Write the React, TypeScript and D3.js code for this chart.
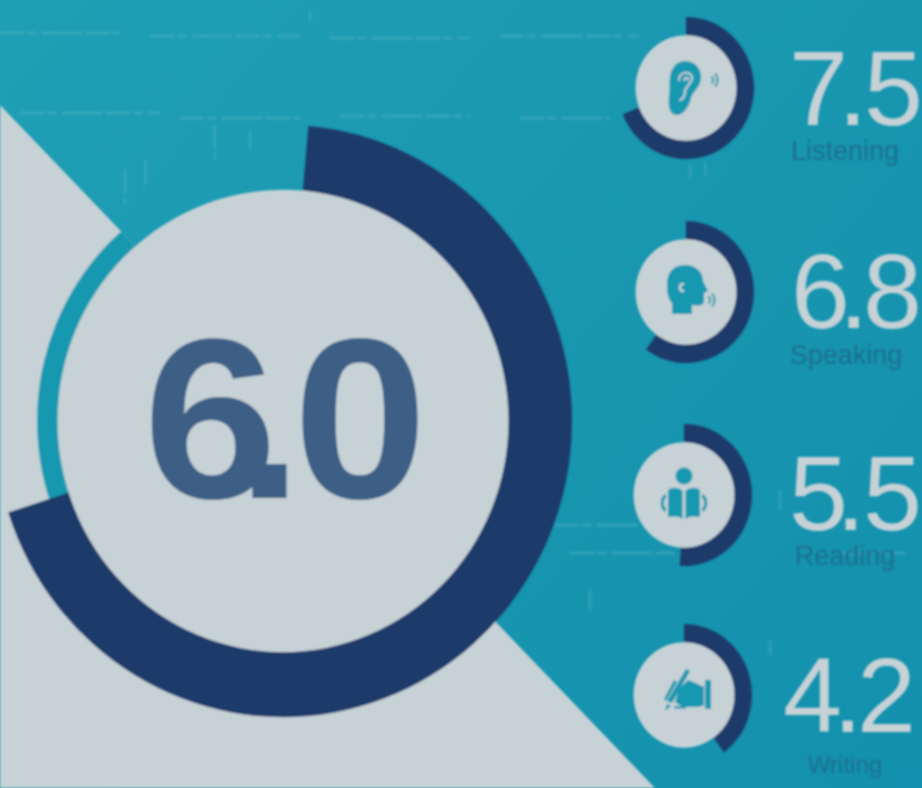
import React from "react";
import * as d3 from "d3";

const skills = ["Listening", "Speaking", "Reading", "Writing"];
const scores = ["7.5", "6.8", "5.5", "4.2"];
// share of the ring filled
const skillFill = [0.69, 0.6, 0.51, 0.4];
const overallScore = "6.0";
const overallStart = 0.014;
const overallEnd = 0.7;

const TEAL = "#1798b1";
const LIGHT = "#c6d2d6";
const NAVY = "#1f3b6a";
const DIAGONAL = "M0 105L655 788H0Z";

const ringAngle = d3.scaleLinear().domain([0, 1]).range([0, 2 * Math.PI]);

const rowCx = [686, 686, 684, 684];
const rowCy = [88, 292, 495, 695];
// glyph by glyph, the picture has uneven kerning
const scoreX = ["789 838 864", "791 839 863", "789 836 863", "783 833 857"];
const scoreY = [125, 328, 530, 732];
const labelX = [845, 846, 845, 845];
const labelY = [160, 364, 565, 773];

// photo scratches in the teal area
const streaks = [
  "M0 33H120M150 36H300M330 38H470M500 36H640",
  "M20 113H160M180 118H300M340 116H470M520 118H610",
  "M125 170V205M145 160V190M215 125V160M250 130V150",
  "M690 165V178M705 162V176M310 10V22M780 490V510",
  "M555 525H640M570 553H675M840 553H905M770 640V655",
  "M400 150V175M440 410V430M590 590V610",
];

const arcPath = d3.arc<{ a0: number; a1: number; r0: number; r1: number }>()
  .innerRadius((d) => d.r0)
  .outerRadius((d) => d.r1)
  .startAngle((d) => d.a0)
  .endAngle((d) => d.a1);

const Waves = ({ x, y }: { x: number; y: number }) => (
  <g fill="none" stroke={TEAL} strokeWidth={2} strokeLinecap="round">
    <path d={`M${x} ${y - 3}Q${x + 2.5} ${y} ${x} ${y + 3}`} />
    <path d={`M${x + 3.5} ${y - 6}Q${x + 7.5} ${y} ${x + 3.5} ${y + 6}`} />
  </g>
);

const Ear = () => (
  <g>
    <path
      d="M-1 -27C10 -27 16 -18 15 -9C14 0 7 3 5 10C3 19 -3 28 -10 27C-17 26 -18 17 -17 8C-16 2 -17 -6 -16 -12C-14 -22 -8 -27 -1 -27Z"
      fill={TEAL}
    />
    <path
      d="M-7 -8C-7 -16 4 -18 6 -11C7 -5 0 -3 -1 3C-1 8 -3 11 -6 12M-2 -8C-1 -11 2 -11 2 -8"
      fill="none"
      stroke={LIGHT}
      strokeWidth={2}
      strokeLinecap="round"
    />
    <Waves x={26} y={-8} />
  </g>
);

const Head = () => (
  <g>
    <path
      d="M-1 -27C10 -27 17 -20 17 -11L22 -1L18 1V9C18 14 12 14 6 13V22H-14V11C-19 6 -19 -2 -19 -8C-19 -20 -12 -27 -1 -27Z"
      fill={TEAL}
    />
    <path
      d="M-3 -8C-7 -8 -7 -1 -3 -1"
      fill="none"
      stroke={LIGHT}
      strokeWidth={2.4}
      strokeLinecap="round"
    />
    <Waves x={23} y={8} />
  </g>
);

const Reader = () => (
  <g fill={TEAL}>
    <circle cx={0} cy={-19} r={8.5} />
    <path d="M-1.5 -4C-6 -8 -12 -8 -16 -5V22C-10 21 -5 21 -1.5 24Z" />
    <path d="M1.5 -4C6 -8 12 -8 16 -5V22C10 21 5 21 1.5 24Z" />
    <path d="M-18 -1C-25 1 -25 15 -18 17V13C-21 11 -21 5 -18 3Z" />
    <path d="M18 -1C25 1 25 15 18 17V13C21 11 21 5 18 3Z" />
  </g>
);

const Hand = () => (
  <g fill={TEAL}>
    <path d="M-5 -6L4 -15L16 -10V12H-1L-9 7Z" />
    <rect x={21} y={-15} width={6} height={29} />
    <rect x={16} y={-9} width={4} height={20} />
    <path d="M2 -26L6 -24L-12 8L-17 6Z" />
    <path d="M-10 -15L-7 -13L-18 6L-20 4Z" />
    <path d="M-17 9L-13 11L-19 16Z" />
    <rect x={-10} y={11} width={12} height={2.5} />
  </g>
);

const icons = [Ear, Head, Reader, Hand];

const App: React.FC = () => (
  <svg
    width={922}
    height={788}
    viewBox="0 0 922 788"
    style={{ position: "absolute", left: 0, top: 0, display: "block" }}
  >
    <defs>
      <linearGradient id="bg" gradientUnits="userSpaceOnUse" x1="0" y1="0" x2="922" y2="788">
        <stop offset="0" stopColor="#1f9fb4" />
        <stop offset="1" stopColor="#1390ad" />
      </linearGradient>
      <filter id="soft" x="-5%" y="-5%" width="110%" height="110%">
        <feGaussianBlur stdDeviation="0.9" />
      </filter>
      <filter id="softer" x="-5%" y="-5%" width="110%" height="110%">
        <feGaussianBlur stdDeviation="1.4" />
      </filter>
      <clipPath id="diag">
        <path d={DIAGONAL} />
      </clipPath>
    </defs>
    <rect width={922} height={788} fill="url(#bg)" />
    <g filter="url(#softer)">
      {streaks.map((d, i) => (
        <path key={i} d={d} stroke="#8fd0da" strokeOpacity={0.32} strokeWidth={1.8} strokeDasharray="24 3 9 6 40 4" fill="none" />
      ))}
    </g>

    <g filter="url(#soft)">
      <path d={DIAGONAL} fill={LIGHT} />

      {/* the teal track only shows where it crosses the light area */}
      <g clipPath="url(#diag)">
        <ellipse cx={283} cy={421} rx={246} ry={252} fill={TEAL} />
      </g>

      {/* overall ring */}
      <g transform="translate(283,421) scale(1,1.025)">
        <path
          d={arcPath({ a0: ringAngle(overallStart), a1: ringAngle(overallEnd), r0: 220, r1: 289 }) ?? ""}
          fill={NAVY}
        />
        <circle r={225.5} fill={LIGHT} />
      </g>
      <g transform="scale(1.06,1)">
        <text
          x="135 222.6 276.4"
          y={498}
          fontFamily="'Liberation Sans', sans-serif"
          fontWeight={700}
          fontSize={228}
          fill="#3d5f85"
        >
          {overallScore}
        </text>
      </g>

      {/* one ring per skill */}
      {skills.map((skill, i) => {
        const Icon = icons[i];
        return (
          <g key={skill}>
            <g transform={`translate(${rowCx[i]},${rowCy[i]}) scale(1,1.045)`}>
              <path
                d={arcPath({ a0: ringAngle(0), a1: ringAngle(skillFill[i]), r0: 45, r1: 68 }) ?? ""}
                fill={NAVY}
              />
              <circle r={50.5} fill={LIGHT} />
            </g>
            <g transform={`translate(${rowCx[i]},${rowCy[i]})`}>
              <Icon />
            </g>
            <text
              x={scoreX[i]}
              y={scoreY[i]}
              fontFamily="'Liberation Sans', sans-serif"
              fontSize={106}
              fill={LIGHT}
            >
              {scores[i]}
            </text>
            <text
              x={labelX[i]}
              y={labelY[i]}
              textAnchor="middle"
              fontFamily="'Liberation Sans', sans-serif"
              fontSize={i === 3 ? 24 : 27}
              fill="#1f6f92"
            >
              {skill}
            </text>
          </g>
        );
      })}
    </g>
  </svg>
);

export default App;
